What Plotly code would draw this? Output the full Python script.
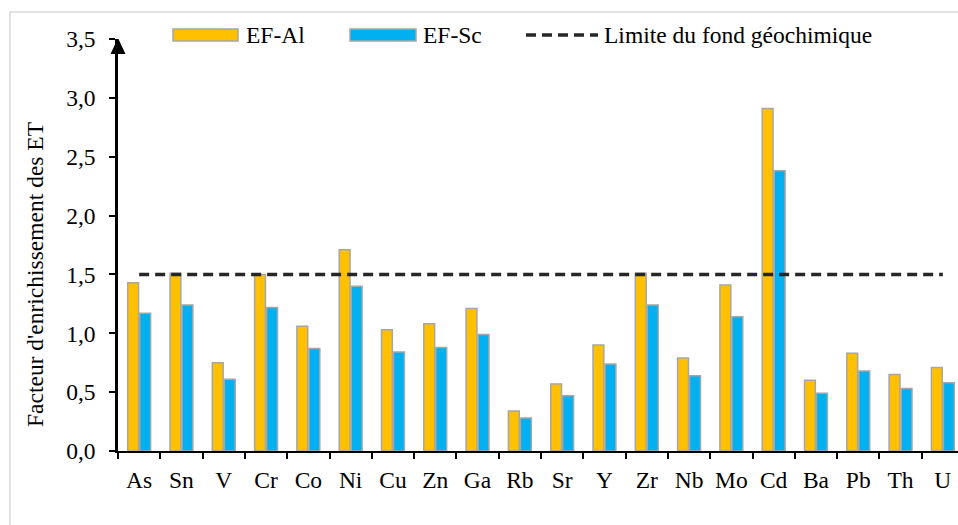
import plotly.graph_objects as go

# Trace elements and enrichment factors
elements = ["As", "Sn", "V", "Cr", "Co", "Ni", "Cu", "Zn", "Ga", "Rb",
            "Sr", "Y", "Zr", "Nb", "Mo", "Cd", "Ba", "Pb", "Th", "U"]
ef_al = [1.43, 1.51, 0.75, 1.50, 1.06, 1.71, 1.03, 1.08, 1.21, 0.34,
         0.57, 0.90, 1.51, 0.79, 1.41, 2.91, 0.60, 0.83, 0.65, 0.71]
ef_sc = [1.17, 1.24, 0.61, 1.22, 0.87, 1.40, 0.84, 0.88, 0.99, 0.28,
         0.47, 0.74, 1.24, 0.64, 1.14, 2.38, 0.49, 0.68, 0.53, 0.58]
background_limit = 1.5
y_ticks = [0, 0.5, 1.0, 1.5, 2.0, 2.5, 3.0, 3.5]

YELLOW = "#FFC000"
BLUE = "#00B0F0"
EDGE = "#A6A6A6"
FONT = "'Liberation Serif', 'Times New Roman', 'DejaVu Serif', serif"
FS = 23.5

W, H = 958, 525
L, R, T, B = 118, 0, 39, 74
PW, PH = W - L - R, H - T - B


def px(x):
    return (x - L) / PW


def py(y):
    return (H - B - y) / PH


fig = go.Figure()
fig.add_trace(go.Bar(x=elements, y=ef_al, name="EF-Al",
                     marker=dict(color=YELLOW, line=dict(color=EDGE, width=1.5))))
fig.add_trace(go.Bar(x=elements, y=ef_sc, name="EF-Sc",
                     marker=dict(color=BLUE, line=dict(color=EDGE, width=1.5))))
fig.add_trace(go.Scatter(x=elements, y=[background_limit] * len(elements),
                         name="Limite du fond géochimique", mode="lines",
                         line=dict(color="#262626", width=3.5, dash="10px,6px")))

shapes = [
    # outer chart frame
    dict(type="rect", xref="paper", yref="paper",
         x0=px(10), x1=px(990), y0=py(560), y1=py(12),
         line=dict(color="#D9D9D9", width=1.5), fillcolor="rgba(0,0,0,0)", layer="below"),
    # arrow head on the value axis
    dict(type="path", xref="paper", yref="y", xsizemode="pixel", ysizemode="pixel",
         xanchor=0, yanchor=3.5, path="M-7.5,-15 L7.5,-15 L0,1 Z",
         fillcolor="black", line=dict(width=0)),
    # legend keys
    dict(type="rect", xref="paper", yref="paper", x0=px(173), x1=px(238), y0=py(41), y1=py(29),
         fillcolor=YELLOW, line=dict(color=EDGE, width=1.5)),
    dict(type="rect", xref="paper", yref="paper", x0=px(350), x1=px(416), y0=py(41), y1=py(29),
         fillcolor=BLUE, line=dict(color=EDGE, width=1.5)),
    dict(type="line", xref="paper", yref="paper", x0=px(526), x1=px(598), y0=py(35), y1=py(35),
         line=dict(color="#262626", width=3.5, dash="10px,6px")),
]

annotations = [
    dict(text="EF-Al", xref="paper", yref="paper", x=px(244), y=py(35),
         xanchor="left", yanchor="middle", showarrow=False, font=dict(family=FONT, size=FS, color="black")),
    dict(text="EF-Sc", xref="paper", yref="paper", x=px(421), y=py(35),
         xanchor="left", yanchor="middle", showarrow=False, font=dict(family=FONT, size=FS, color="black")),
    dict(text="Limite du fond géochimique", xref="paper", yref="paper", x=px(602), y=py(35),
         xanchor="left", yanchor="middle", showarrow=False, font=dict(family=FONT, size=FS, color="black")),
    dict(text="Facteur d'enrichissement des ET", xref="paper", yref="paper",
         x=px(35), y=py(275), textangle=-90, xanchor="center", yanchor="middle",
         showarrow=False, font=dict(family=FONT, size=FS, color="black")),
]

fig.update_layout(
    width=W, height=H,
    margin=dict(l=L, r=R, t=T, b=B, pad=0),
    paper_bgcolor="white", plot_bgcolor="white",
    barmode="group", bargap=0.43, bargroupgap=0.1,
    separators=", ",
    showlegend=False,
    font=dict(family=FONT, size=FS, color="black"),
    shapes=shapes, annotations=annotations,
)
fig.update_xaxes(
    type="category", range=[-0.5, 19.5 - 6 / 42.3],
    showline=True, linecolor="black", linewidth=1.5,
    ticks="outside", tickson="boundaries", ticklen=6, tickwidth=1.5, tickcolor="black",
    ticklabelstandoff=7, showgrid=False, zeroline=False,
)
fig.update_yaxes(
    range=[0, 3.5], tickvals=y_ticks, tickformat=".1f",
    showline=True, linecolor="black", linewidth=2.5,
    ticks="outside", ticklen=6, tickwidth=1.5, tickcolor="black",
    ticklabelstandoff=9, showgrid=False, zeroline=False,
)

fig.write_html("out.html")
